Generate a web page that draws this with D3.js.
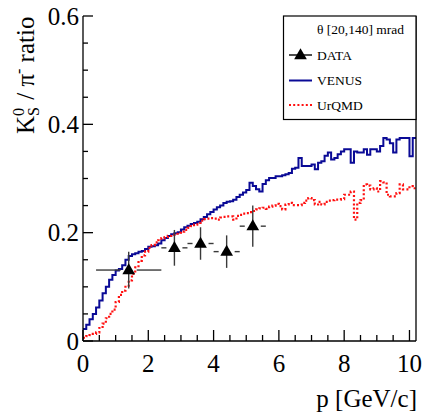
<!DOCTYPE html>
<html>
<head>
<meta charset="utf-8">
<script src="https://cdn.jsdelivr.net/npm/d3@7"></script>
<style>
  body { margin: 0; background: #fff; }
</style>
</head>
<body>
<div id="chart"></div>
<script>
/////////////////////////
// values off the plot //
/////////////////////////

// histogram binning: 102 bins of 0.1 GeV/c starting at 0
let binStart = 0;
let binWidth = 0.1;

let venus = [
    0.022, 0.030, 0.040, 0.050, 0.062, 0.075, 0.088, 0.100, 0.113, 0.122,
    0.130, 0.133, 0.140, 0.150, 0.157, 0.160, 0.162, 0.165, 0.166, 0.170,
    0.174, 0.175, 0.177, 0.180, 0.186, 0.190, 0.194, 0.197, 0.199, 0.201,
    0.206, 0.210, 0.213, 0.216, 0.218, 0.220, 0.225, 0.229, 0.234, 0.238,
    0.243, 0.247, 0.250, 0.255, 0.257, 0.258, 0.261, 0.266, 0.270, 0.274,
    0.279, 0.292, 0.286, 0.280, 0.276, 0.290, 0.297, 0.301, 0.301, 0.304,
    0.304, 0.306, 0.308, 0.310, 0.318, 0.320, 0.338, 0.323, 0.323, 0.323,
    0.326, 0.317, 0.329, 0.332, 0.342, 0.348, 0.335, 0.338, 0.345, 0.350,
    0.354, 0.354, 0.329, 0.350, 0.348, 0.348, 0.354, 0.344, 0.354, 0.354,
    0.350, 0.360, 0.375, 0.372, 0.365, 0.348, 0.372, 0.375, 0.375, 0.375,
    0.341, 0.375
];

let urqmd = [
    0.006, 0.009, 0.011, 0.013, 0.016, 0.024, 0.032, 0.042, 0.050, 0.058,
    0.072, 0.085, 0.093, 0.102, 0.112, 0.124, 0.136, 0.148, 0.158, 0.165,
    0.172, 0.177, 0.182, 0.186, 0.190, 0.192, 0.194, 0.196, 0.198, 0.200,
    0.202, 0.205, 0.209, 0.212, 0.215, 0.218, 0.222, 0.225, 0.226, 0.227,
    0.226, 0.224, 0.228, 0.229, 0.230, 0.230, 0.224, 0.231, 0.233, 0.235,
    0.236, 0.238, 0.240, 0.243, 0.245, 0.246, 0.244, 0.248, 0.250, 0.253,
    0.249, 0.243, 0.252, 0.255, 0.251, 0.251, 0.251, 0.255, 0.259, 0.264,
    0.260, 0.252, 0.257, 0.252, 0.257, 0.259, 0.260, 0.261, 0.261, 0.262,
    0.270, 0.270, 0.276, 0.224, 0.255, 0.260, 0.289, 0.287, 0.280, 0.282,
    0.276, 0.295, 0.293, 0.270, 0.267, 0.267, 0.273, 0.289, 0.280, 0.280,
    0.286, 0.282
];

// measured points
let dataP = [1.4, 2.8, 3.6, 4.4, 5.2];
let dataRatio = [0.131, 0.172, 0.180, 0.165, 0.212];
let dataPErr = [1.0, 0.4, 0.4, 0.4, 0.4];
let dataRatioErr = [0.034, 0.033, 0.030, 0.030, 0.038];

let xTickLabels = [0, 2, 4, 6, 8, 10];
let yTickLabels = [0, 0.2, 0.4, 0.6];

let legendTitle = "\u03b8 [20,140] mrad";
let legendNames = ["DATA", "VENUS", "UrQMD"];


////////////////
// the chart  //
////////////////

let width = 425, height = 416;
let padL = 83, padR = 416, padT = 16, padB = 341;
let serif = "Liberation Serif";

let svg = d3.select("#chart").append("svg")
    .attr("width", width)
    .attr("height", height)
    .attr("font-family", serif);

let x = d3.scaleLinear().domain([0, 10.2]).range([padL, padR]);
let y = d3.scaleLinear().domain([0, 0.6]).range([padB, padT]);

let blue = "#0a0a96";
let red = "#ff1010";

// step outline for a histogram
function stepPoints(values) {
    let pts = values.map(function(v, i) { return { p: binStart + i * binWidth, v: v } });
    pts.push({ p: binStart + values.length * binWidth, v: values[values.length - 1] });
    return pts;
}

let step = d3.line()
    .x(function(d) { return x(d.p) })
    .y(function(d) { return y(d.v) })
    .curve(d3.curveStepAfter);

svg.append("path")
    .attr("fill", "none")
    .attr("stroke", blue)
    .attr("stroke-width", 2)
    .attr("d", step(stepPoints(venus)));

svg.append("path")
    .attr("fill", "none")
    .attr("stroke", red)
    .attr("stroke-width", 2.2)
    .attr("stroke-dasharray", "2,2.2")
    .attr("d", step(stepPoints(urqmd)));

// error bars and markers
let points = dataP.map(function(p, i) {
    return { p: p, r: dataRatio[i], ep: dataPErr[i], er: dataRatioErr[i] };
});

let errG = svg.append("g")
    .attr("stroke", "#3a3a3a")
    .attr("stroke-width", 1.4);

let gap = 8;
points.forEach(function(d) {
    let cx = x(d.p), cy = y(d.r);
    errG.append("line")
        .attr("x1", x(d.p - d.ep)).attr("x2", cx - gap)
        .attr("y1", cy).attr("y2", cy);
    errG.append("line")
        .attr("x1", cx + gap).attr("x2", x(d.p + d.ep))
        .attr("y1", cy).attr("y2", cy);
    errG.append("line")
        .attr("x1", cx).attr("x2", cx)
        .attr("y1", y(d.r + d.er)).attr("y2", y(d.r - d.er));
});

let tri = d3.symbol().type(d3.symbolTriangle).size(70);
svg.append("g").selectAll("path")
    .data(points)
    .enter()
    .append("path")
    .attr("transform", function(d) { return "translate(" + x(d.p) + "," + (y(d.r) + 0.5) + ")" })
    .attr("d", tri)
    .attr("fill", "#000");

// axes
let axisG = svg.append("g").attr("stroke", "#000").attr("stroke-width", 1.3);

axisG.append("line").attr("x1", padL).attr("x2", padL).attr("y1", padT).attr("y2", padB);
axisG.append("line").attr("x1", padL).attr("x2", padR).attr("y1", padB).attr("y2", padB);
axisG.append("line").attr("x1", padR).attr("x2", padR).attr("y1", padT).attr("y2", padB);

let xMinor = d3.range(0, 10.01, 0.5);
axisG.selectAll(".xt")
    .data(xMinor)
    .enter()
    .append("line")
    .attr("x1", function(d) { return x(d) })
    .attr("x2", function(d) { return x(d) })
    .attr("y1", padB)
    .attr("y2", function(d) { return Math.abs(d % 2) < 1e-6 ? padB - 11 : padB - 6 });

let yMinor = d3.range(0, 0.601, 0.05);
axisG.selectAll(".yt")
    .data(yMinor)
    .enter()
    .append("line")
    .attr("y1", function(d) { return y(d) })
    .attr("y2", function(d) { return y(d) })
    .attr("x1", padL)
    .attr("x2", function(d) { return Math.round(d * 100) % 20 === 0 ? padL + 10 : padL + 5 });

svg.selectAll(".xl")
    .data(xTickLabels)
    .enter()
    .append("text")
    .attr("x", function(d) { return x(d) })
    .attr("y", 372)
    .attr("text-anchor", "middle")
    .attr("font-size", 25)
    .text(function(d) { return d });

svg.selectAll(".yl")
    .data(yTickLabels)
    .enter()
    .append("text")
    .attr("x", 79)
    .attr("y", function(d) { return y(d) })
    .attr("dy", "0.35em")
    .attr("text-anchor", "end")
    .attr("font-size", 25)
    .text(function(d) { return d });

svg.append("text")
    .attr("x", 417)
    .attr("y", 407)
    .attr("text-anchor", "end")
    .attr("font-size", 25)
    .text("p [GeV/c]");

// y title, laid out piece by piece in a rotated group
let yt = svg.append("g").attr("transform", "translate(34,134) rotate(-90)");
let cursor = 0;
function piece(str, size, dy) {
    let t = yt.append("text")
        .attr("x", cursor)
        .attr("y", dy)
        .attr("font-size", size)
        .style("white-space", "pre")
        .text(str);
    return t.node().getComputedTextLength();
}
cursor += piece("K", 25, 0);
let wSup = piece("0", 16, -10);
let wSub = piece("S", 16, 5);
cursor += Math.max(wSup, wSub) + 1;
cursor += piece(" / \u03c0", 25, 0);
cursor += piece("-", 16, -10);
cursor += piece(" ratio", 25, 0);

// legend
let lg = svg.append("g");
lg.append("rect")
    .attr("x", 283.5).attr("y", padT)
    .attr("width", padR - 283.5).attr("height", 119.5 - padT)
    .attr("fill", "#fff")
    .attr("stroke", "#000")
    .attr("stroke-width", 1.2);

lg.append("text")
    .attr("x", 317).attr("y", 34)
    .attr("font-size", 13.5)
    .text(legendTitle);

let rowY = [55, 80.5, 105];
legendNames.forEach(function(name, i) {
    lg.append("text")
        .attr("x", 317).attr("y", rowY[i] + 4.5)
        .attr("font-size", 13.5)
        .text(name);
});

lg.append("line")
    .attr("x1", 289).attr("x2", 312).attr("y1", rowY[0]).attr("y2", rowY[0])
    .attr("stroke", "#000").attr("stroke-width", 1.4);
lg.append("path")
    .attr("transform", "translate(300.5," + (rowY[0] + 0.5) + ")")
    .attr("d", tri)
    .attr("fill", "#000");
lg.append("line")
    .attr("x1", 289).attr("x2", 312).attr("y1", rowY[1]).attr("y2", rowY[1])
    .attr("stroke", blue).attr("stroke-width", 2);
lg.append("line")
    .attr("x1", 289).attr("x2", 312).attr("y1", rowY[2]).attr("y2", rowY[2])
    .attr("stroke", red).attr("stroke-width", 2.2)
    .attr("stroke-dasharray", "2,2.2");
</script>
</body>
</html>
